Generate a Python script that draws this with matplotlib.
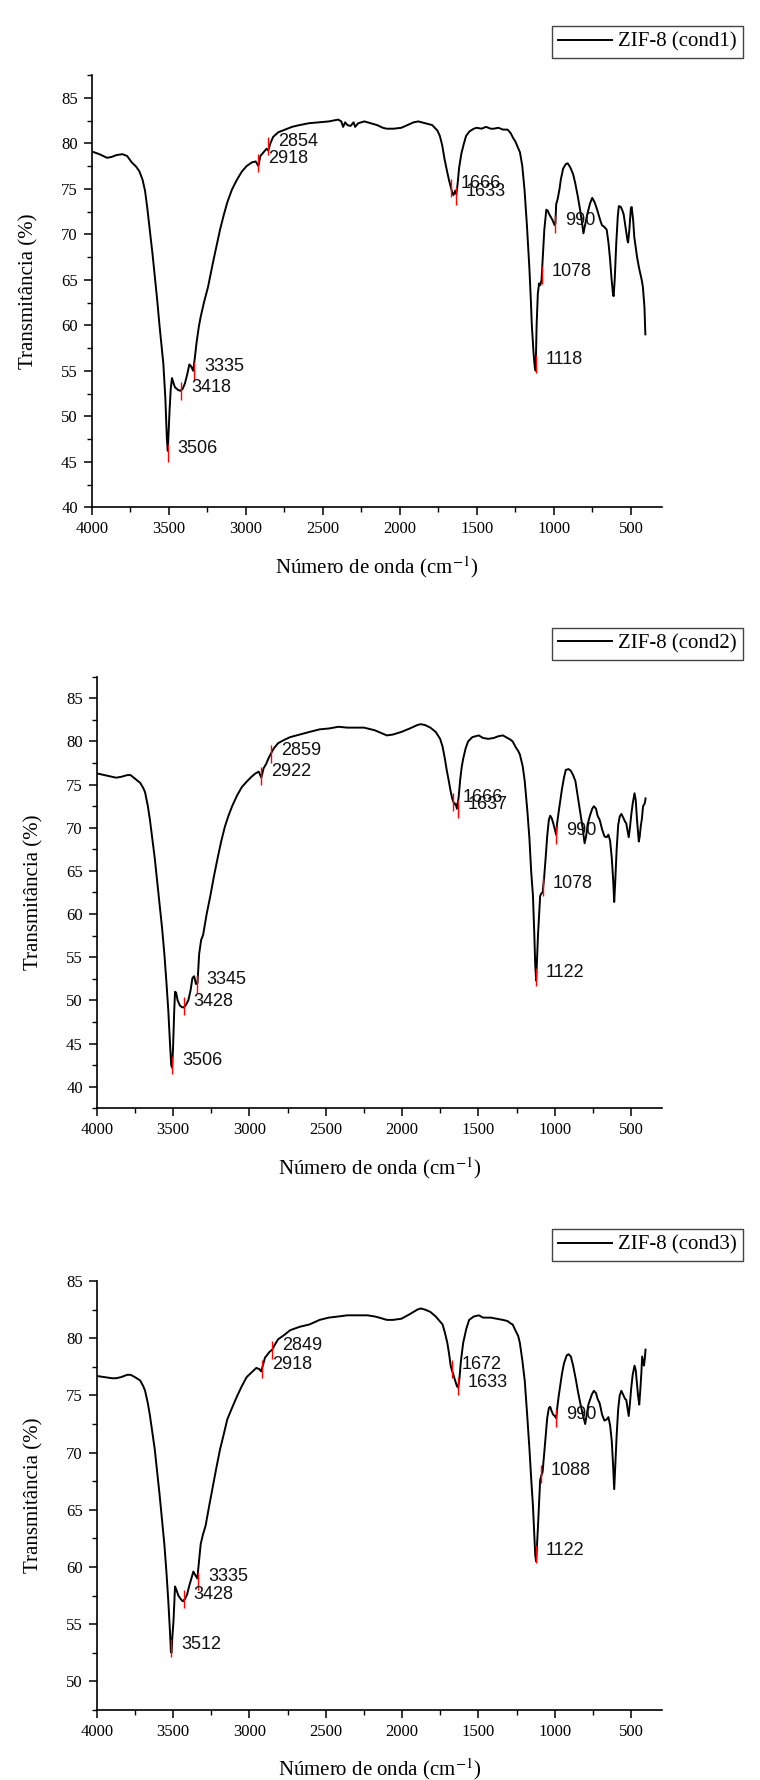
import matplotlib
matplotlib.use('Agg')
import matplotlib.pyplot as plt
from matplotlib.ticker import MultipleLocator

plt.rcParams['font.family'] = ['Liberation Serif', 'DejaVu Serif']
plt.rcParams['mathtext.fontset'] = 'stix'

# ---- dados ----
wn1 = [4000, 3950, 3900, 3870, 3840, 3800, 3770, 3740, 3710, 3690, 3670, 3654, 3640, 3623, 3605, 3591,
       3575, 3560, 3545, 3535, 3522, 3512, 3506, 3500, 3495, 3487, 3479, 3470, 3460, 3440, 3425, 3410,
       3395, 3380, 3366, 3355, 3341, 3330, 3320, 3305, 3293, 3270, 3245, 3214, 3190, 3167, 3143, 3120,
       3090, 3057, 3025, 2994, 2960, 2935, 2918, 2905, 2880, 2865, 2854, 2840, 2822, 2790, 2744, 2700,
       2650, 2590, 2525, 2460, 2400, 2380, 2368, 2355, 2340, 2320, 2300, 2290, 2270, 2230, 2190, 2148,
       2110, 2085, 2040, 1990, 1950, 1910, 1880, 1834, 1790, 1756, 1740, 1725, 1710, 1693, 1680, 1671,
       1666, 1660, 1652, 1645, 1640, 1633, 1625, 1615, 1600, 1585, 1570, 1548, 1520, 1500, 1470, 1440,
       1410, 1390, 1360, 1330, 1300, 1280, 1265, 1250, 1235, 1220, 1205, 1190, 1175, 1159, 1150, 1143,
       1132, 1124, 1118, 1112, 1104, 1096, 1088, 1080, 1072, 1062, 1049, 1040, 1030, 1010, 1000, 995,
       990, 985, 975, 963, 955, 940, 923, 910, 892, 875, 861, 845, 830, 815, 808, 800, 783, 765, 751,
       735, 719, 700, 688, 672, 657, 645, 635, 625, 616, 612, 605, 595, 585, 578, 565, 555, 547, 535,
       522, 518, 510, 500, 495, 485, 478, 460, 447, 430, 422, 412, 406]
t1 = [79.1, 78.8, 78.4, 78.5, 78.7, 78.8, 78.6, 77.9, 77.4, 76.9, 76.0, 74.8, 73.0, 70.5, 67.8, 65.5,
      62.8, 60.0, 57.5, 55.8, 52.0, 47.5, 46.2, 48.5, 50.5, 53.0, 54.2, 53.7, 53.2, 52.9, 52.8, 53.0,
      53.6, 54.6, 55.7, 55.5, 55.0, 56.5, 58.0, 59.8, 60.9, 62.6, 64.2, 66.8, 68.7, 70.5, 72.1, 73.5,
      74.9, 76.0, 76.9, 77.5, 77.9, 78.0, 77.5, 78.6, 79.1, 79.4, 79.2, 80.0, 80.7, 81.2, 81.5, 81.8,
      82.0, 82.2, 82.3, 82.4, 82.6, 82.4, 81.8, 82.3, 82.0, 81.9, 82.3, 81.8, 82.2, 82.4, 82.2, 82.0,
      81.7, 81.6, 81.6, 81.7, 82.0, 82.3, 82.4, 82.2, 82.0, 81.4, 80.8, 79.8, 78.3, 76.9, 75.9, 75.3,
      75.0, 74.6, 74.3, 74.6, 74.8, 74.4, 75.5, 77.3, 78.9, 79.9, 80.8, 81.3, 81.6, 81.7, 81.6, 81.8,
      81.6, 81.6, 81.7, 81.5, 81.5, 81.1, 80.6, 80.2, 79.6, 79.0, 77.5, 74.8, 71.0, 66.3, 63.0, 60.0,
      57.0, 55.4, 55.0, 60.0, 63.5, 64.6, 64.4, 65.0, 67.5, 70.5, 72.7, 72.6, 72.2, 71.6, 71.2, 71.0,
      71.2, 73.3, 73.9, 75.0, 76.0, 77.2, 77.7, 77.8, 77.3, 76.6, 75.6, 74.2, 72.7, 71.0, 70.1, 70.8,
      72.2, 73.4, 74.0, 73.5, 72.7, 71.6, 71.0, 70.8, 70.5, 69.0, 67.2, 65.0, 63.4, 63.2, 65.0, 69.0,
      72.0, 73.1, 73.0, 72.6, 72.2, 70.8, 69.3, 69.1, 70.5, 72.9, 73.0, 71.5, 69.7, 67.5, 66.3, 65.0,
      64.2, 62.0, 59.0]

wn2 = [4000, 3950, 3900, 3873, 3840, 3800, 3778, 3750, 3715, 3695, 3683, 3665, 3652, 3636, 3620, 3604,
       3588, 3572, 3557, 3543, 3531, 3520, 3512, 3506, 3500, 3493, 3487, 3480, 3470, 3455, 3440, 3428,
       3415, 3400, 3385, 3373, 3362, 3350, 3340, 3329, 3316, 3303, 3280, 3256, 3232, 3208, 3185, 3161,
       3137, 3113, 3082, 3050, 3020, 2987, 2960, 2939, 2922, 2907, 2890, 2876, 2859, 2840, 2812, 2770,
       2733, 2670, 2607, 2540, 2480, 2416, 2360, 2300, 2250, 2227, 2180, 2140, 2100, 2060, 2005, 1950,
       1900, 1878, 1850, 1815, 1780, 1751, 1735, 1720, 1707, 1694, 1683, 1672, 1664, 1657, 1650, 1641,
       1630, 1620, 1610, 1600, 1584, 1568, 1540, 1498, 1470, 1435, 1400, 1370, 1340, 1310, 1290, 1276,
       1255, 1240, 1229, 1210, 1197, 1180, 1166, 1155, 1143, 1134, 1128, 1122, 1116, 1110, 1096, 1088,
       1080, 1070, 1060, 1050, 1039, 1030, 1020, 1010, 1000, 991, 985, 975, 965, 953, 940, 928, 910,
       895, 880, 865, 850, 833, 818, 805, 795, 785, 770, 755, 744, 730, 720, 706, 690, 675, 660, 649,
       638, 627, 618, 611, 605, 595, 585, 575, 564, 550, 540, 532, 523, 516, 508, 500, 490, 478, 470,
       462, 455, 450, 444, 437, 430, 422, 415, 410, 406]
t2 = [76.3, 76.1, 75.9, 75.8, 75.9, 76.1, 76.1, 75.7, 75.2, 74.6, 74.1, 72.5, 71.0, 68.8, 66.5, 63.8,
      61.2, 58.4, 55.4, 52.0, 48.8, 45.0, 42.5, 42.2, 44.5, 48.5, 51.0, 50.9, 50.0, 49.4, 49.2, 49.2,
      49.5, 50.0, 51.2, 52.6, 52.8, 51.9, 52.0, 55.4, 57.0, 57.6, 60.0, 62.1, 64.4, 66.5, 68.4, 70.1,
      71.4, 72.5, 73.7, 74.7, 75.3, 75.9, 76.3, 76.5, 75.8, 76.9, 77.4, 78.0, 78.6, 79.2, 79.8, 80.2,
      80.5, 80.8, 81.1, 81.4, 81.5, 81.7, 81.6, 81.6, 81.6, 81.5, 81.3, 81.0, 80.7, 80.8, 81.1, 81.5,
      81.9, 82.0, 81.9, 81.6, 81.1, 80.3, 79.4, 78.0, 76.6, 75.4, 74.3, 73.4, 73.0, 72.7, 72.8, 72.2,
      73.5, 75.5, 77.0, 78.0, 79.2, 80.0, 80.5, 80.7, 80.4, 80.3, 80.4, 80.6, 80.7, 80.4, 80.2, 80.0,
      79.3, 78.9, 78.5, 77.1, 75.4, 72.0, 68.7, 65.0, 62.1, 57.5, 54.0, 52.3, 55.0, 57.6, 62.1, 62.4,
      62.5, 64.2, 66.5, 69.0, 70.9, 71.4, 71.1, 70.5, 69.8, 69.2, 70.5, 71.8, 73.0, 74.5, 75.8, 76.7,
      76.8, 76.6, 76.1, 75.4, 73.7, 71.8, 70.0, 68.2, 69.0, 70.4, 71.4, 72.2, 72.5, 72.2, 71.4, 70.9,
      69.8, 69.0, 68.9, 69.2, 68.5, 66.5, 64.0, 61.4, 63.5, 67.5, 70.3, 71.3, 71.6, 71.1, 70.7, 70.5,
      69.6, 68.9, 70.0, 71.4, 72.8, 74.0, 73.2, 71.0, 69.5, 68.4, 69.0, 70.2, 71.0, 72.5, 72.7, 72.9,
      73.4]

wn3 = [4000, 3950, 3900, 3873, 3840, 3800, 3778, 3750, 3715, 3695, 3683, 3665, 3652, 3636, 3620, 3604,
       3588, 3572, 3557, 3543, 3531, 3520, 3514, 3510, 3505, 3497, 3487, 3478, 3465, 3450, 3436, 3422,
       3408, 3395, 3380, 3367, 3355, 3341, 3330, 3319, 3305, 3287, 3264, 3240, 3216, 3192, 3168, 3145,
       3114, 3082, 3050, 3018, 2987, 2955, 2935, 2923, 2910, 2898, 2880, 2869, 2850, 2835, 2812, 2770,
       2733, 2670, 2607, 2540, 2480, 2416, 2360, 2300, 2227, 2180, 2150, 2100, 2060, 2005, 1950, 1900,
       1878, 1850, 1815, 1780, 1735, 1720, 1704, 1692, 1682, 1672, 1666, 1655, 1641, 1633, 1625, 1615,
       1600, 1580, 1561, 1530, 1498, 1470, 1420, 1380, 1340, 1310, 1290, 1276, 1255, 1240, 1229, 1213,
       1197, 1182, 1166, 1155, 1143, 1134, 1128, 1122, 1116, 1110, 1096, 1088, 1080, 1070, 1060, 1050,
       1039, 1030, 1020, 1010, 1000, 990, 985, 975, 965, 953, 940, 922, 910, 895, 880, 861, 848, 833,
       818, 801, 790, 780, 770, 757, 744, 730, 720, 706, 690, 675, 660, 649, 638, 627, 618, 611, 605,
       595, 585, 575, 564, 550, 540, 532, 523, 516, 508, 500, 490, 478, 470, 462, 455, 447, 440, 433,
       428, 422, 416, 410, 406]
t3 = [76.7, 76.6, 76.5, 76.5, 76.6, 76.8, 76.8, 76.6, 76.3, 75.8, 75.4, 74.3, 73.3, 71.8, 70.3, 68.3,
      66.3, 64.1, 62.0, 59.5, 57.0, 54.3, 52.6, 52.5, 53.8, 55.3, 58.3, 58.0, 57.5, 57.2, 57.0, 57.2,
      57.6, 58.3, 59.0, 59.6, 59.3, 59.0, 60.5, 62.0, 62.8, 63.6, 65.3, 67.0, 68.7, 70.3, 71.6, 72.9,
      73.9, 74.9, 75.8, 76.6, 77.0, 77.4, 77.3, 77.1, 77.7, 78.3, 78.6, 78.8, 79.0, 79.4, 79.9, 80.3,
      80.7, 81.0, 81.2, 81.6, 81.8, 81.9, 82.0, 82.0, 82.0, 81.9, 81.8, 81.6, 81.6, 81.7, 82.1, 82.5,
      82.6, 82.5, 82.3, 81.9, 81.2, 80.5, 79.6, 78.6, 77.6, 77.1, 76.9, 76.4, 75.8, 75.7, 76.4, 78.0,
      79.6, 80.8, 81.6, 81.9, 82.0, 81.8, 81.8, 81.7, 81.6, 81.5, 81.3, 81.2, 80.6, 80.2, 79.6, 78.1,
      76.3, 73.5, 70.3, 67.8, 65.3, 62.6, 61.0, 60.5, 62.0, 63.6, 67.6, 68.0, 68.3, 69.8, 71.4, 73.0,
      73.9, 74.0, 73.6, 73.3, 73.2, 73.0, 73.8, 74.9, 75.8, 76.9, 77.8, 78.5, 78.6, 78.4, 77.6, 76.3,
      75.3, 74.3, 73.4, 72.5, 73.4, 74.2, 74.6, 75.1, 75.4, 75.2, 74.7, 74.3, 73.3, 72.8, 72.9, 73.1,
      72.4, 71.0, 68.8, 66.8, 68.5, 71.5, 73.8, 75.0, 75.4, 75.0, 74.7, 74.6, 73.8, 73.2, 74.3, 75.6,
      76.8, 77.6, 77.2, 76.0, 75.0, 74.2, 75.5, 77.0, 78.4, 78.0, 77.6, 78.3, 79.0]

# picos marcados (número de onda, transmitância no marcador)
peaks1 = [3506, 3418, 3335, 2918, 2854, 1666, 1633, 1118, 1078, 990]
peak_t1 = [46.0, 52.75, 55.0, 77.85, 79.7, 75.1, 74.2, 55.8, 65.5, 71.1]
peaks2 = [3506, 3428, 3345, 2922, 2859, 1666, 1637, 1122, 1078, 990]
peak_t2 = [42.5, 49.4, 51.9, 76.0, 78.5, 73.0, 72.2, 52.7, 63.1, 69.2]
peaks3 = [3512, 3428, 3335, 2918, 2849, 1672, 1633, 1122, 1088, 990]
peak_t3 = [52.9, 57.2, 58.8, 77.3, 79.0, 77.3, 75.8, 61.1, 68.1, 73.0]

labels = ['ZIF-8 (cond1)', 'ZIF-8 (cond2)', 'ZIF-8 (cond3)']
ylims = [(40, 87.5), (37.5, 87.5), (47.5, 85)]
yticks = [range(40, 86, 5), range(40, 86, 5), range(50, 86, 5)]

W, H = 760, 1780
fig = plt.figure(figsize=(W / 100, H / 100), dpi=100)

# caixas dos eixos em pixels: (esq, topo, dir, base)
boxes = [(91.7, 75, 661.7, 507.3), (96.7, 676.7, 661.7, 1108.3), (96.7, 1281, 661.7, 1710)]
legend_tops = [26, 627.5, 1229]

series = [(wn1, t1, peaks1, peak_t1), (wn2, t2, peaks2, peak_t2), (wn3, t3, peaks3, peak_t3)]

for i, (wn, t, pk, pkt) in enumerate(series):
    l, tp, r, b = boxes[i]
    ax = fig.add_axes([l / W, 1 - b / H, (r - l) / W, (b - tp) / H])
    line, = ax.plot(wn, t, color='black', lw=1.4)

    # marcadores vermelhos + rótulos
    ax.plot(pk, pkt, ls='none', marker='|', ms=13, mew=1.0, color='red', zorder=3)
    for p, y in zip(pk, pkt):
        ax.annotate(str(p), (p, y), xytext=(7, 3), textcoords='offset points',
                    ha='left', va='center', fontsize=13, family=['Liberation Sans', 'DejaVu Sans'],
                    color='#111111')

    ax.set_xlim(4000, 300)
    ax.set_ylim(*ylims[i])
    ax.set_xticks(range(4000, 499, -500))
    ax.xaxis.set_minor_locator(MultipleLocator(250))
    ax.set_yticks(list(yticks[i]))
    ax.yaxis.set_minor_locator(MultipleLocator(2.5))
    ax.spines['top'].set_visible(False)
    ax.spines['right'].set_visible(False)
    for s in ['left', 'bottom']:
        ax.spines[s].set_linewidth(1.2)
    ax.tick_params(which='major', direction='out', length=6, width=1.1, labelsize=12, pad=4)
    ax.tick_params(which='minor', direction='out', length=3.5, width=1.0)

    ax.set_xlabel('Número de onda (cm$^{-1}$)', fontsize=15, labelpad=12)
    ax.set_ylabel('Transmitância (%)', fontsize=15, labelpad=16)

    leg = ax.legend([line], [labels[i]], loc='upper right',
                    bbox_to_anchor=(743.3 / W, 1 - legend_tops[i] / H),
                    bbox_transform=fig.transFigure, fancybox=False, framealpha=1,
                    edgecolor='#444444', borderpad=0.3, handlelength=2.6,
                    handletextpad=0.3, borderaxespad=0, fontsize=15)
    leg.get_frame().set_linewidth(1.0)

fig.savefig('out.png', dpi=100, facecolor='white')
